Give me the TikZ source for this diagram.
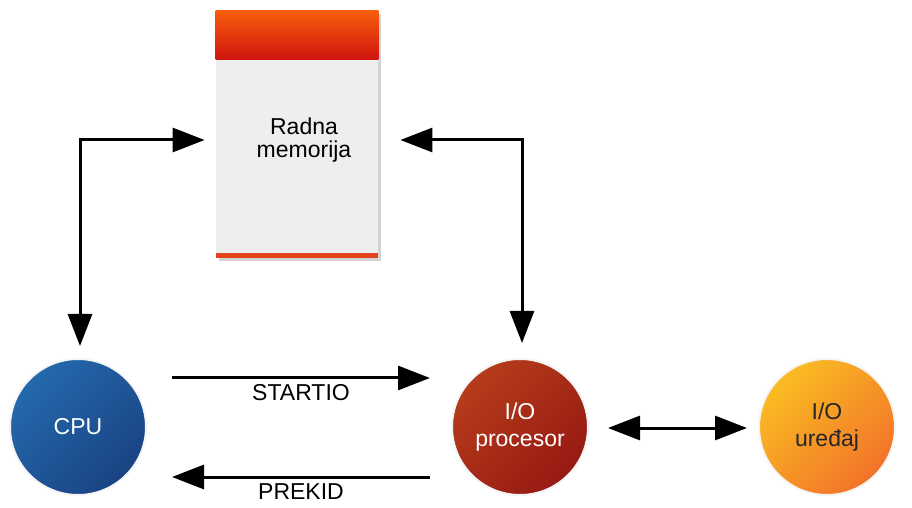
\documentclass[tikz,border=0pt]{standalone}
\usepackage{fontspec}
\setmainfont{Liberation Sans}
\usetikzlibrary{arrows.meta,
	shadows,
	calc,
	positioning}

\definecolor{cpuTop}{HTML}{2469AD}
\definecolor{cpuBot}{HTML}{1A4382}
\definecolor{iopTop}{HTML}{B53C1B}
\definecolor{iopBot}{HTML}{961A12}
\definecolor{devTop}{HTML}{FABC22}
\definecolor{devBot}{HTML}{F2732A}
\definecolor{memTop}{HTML}{F85E0C}
\definecolor{memBot}{HTML}{CF140F}
\definecolor{memLine}{HTML}{E3441C}

\tikzset{
	krug/.style 2 args={circle, minimum size=68pt, inner sep=0pt, align=center,
		draw=gray!8, line width=1pt, top color=#1, bottom color=#2, shading angle=45,
		font=\fontsize{11.5}{13.5}\selectfont},
	strelica/.style={line width=1.5pt, black, arrows={-Triangle[length=16pt, width=12pt]}},
	dvostrana/.style={strelica, arrows={Triangle[length=16pt, width=12pt]-Triangle[length=16pt, width=12pt]}},
	oznaka/.style={font=\fontsize{11.5}{13}\selectfont, inner sep=2.5pt}
}

\begin{document}
\begin{tikzpicture}[x=0.5pt, y=-0.5pt]
	\useasboundingbox (0, 0) rectangle (912, 508);
	\node[rectangle, minimum width=81pt, minimum height=123.5pt, inner sep=0pt, fill=gray!13,
		drop shadow={shadow xshift=1.5pt, shadow yshift=-1.5pt, opacity=0.35}] (mem) at (297, 134.5) {};
	\shade[top color=memTop, bottom color=memBot] (mem.north west) rectangle ($(mem.north east)+(0, 49)$);
	\fill[memLine] (mem.south west) rectangle ($(mem.south east)+(0, -5)$);
	\node[align=center, font=\fontsize{11.5}{11.5}\selectfont] (memtxt) at (304, 140) {Radna\\memorija};
	\node[krug={cpuTop}{cpuBot}, text=white] (cpu) at (78, 427) {CPU};
	\node[krug={iopTop}{iopBot}, text=white] (iop) at (520, 427) {I/O\\procesor};
	\node[krug={devTop}{devBot}, text=black!85] (dev) at (827, 427) {I/O\\uređaj};
	\draw[dvostrana, shorten <=6pt, shorten >=5.5pt]
		([xshift=1pt]cpu.north) |- ([yshift=-2.75pt]mem.west);
	\draw[dvostrana, shorten <=11pt, shorten >=7.5pt]
		([yshift=-2.75pt]mem.east) -| ([xshift=1pt]iop.north);
	\draw[strelica] ([xshift=12.5pt, yshift=24.5pt]cpu.east) -- ([xshift=-10.5pt, yshift=24.5pt]iop.west)
		node[midway, below, oznaka] {STARTIO};
	\draw[strelica] ([xshift=-10.5pt, yshift=-25pt]iop.west) -- ([xshift=12.5pt, yshift=-25pt]cpu.east)
		node[midway, below, oznaka] {PREKID};
	\draw[dvostrana, shorten <=9.5pt, shorten >=5.5pt]
		([yshift=-0.5pt]iop.east) -- ([yshift=-0.5pt]dev.west);
\end{tikzpicture}
\end{document}
